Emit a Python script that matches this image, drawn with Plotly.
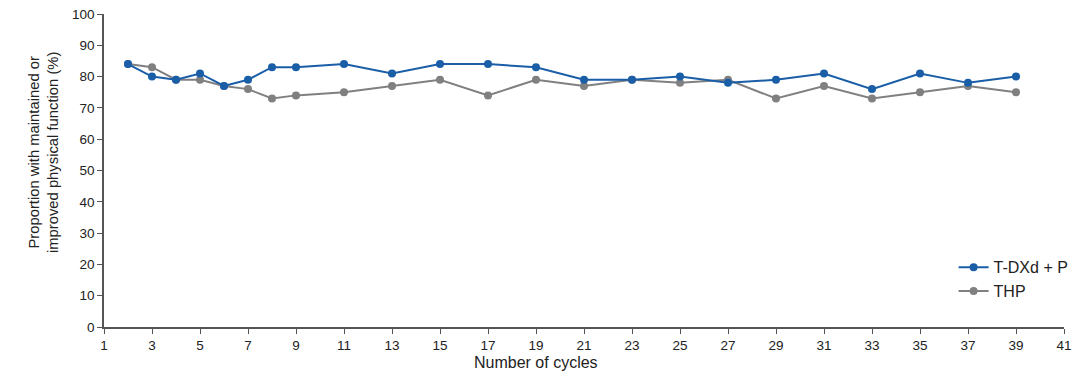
import plotly.graph_objects as go

cycles = [2, 3, 4, 5, 6, 7, 8, 9, 11, 13, 15, 17, 19, 21, 23, 25, 27, 29, 31, 33, 35, 37, 39]
tdxd_p = [84, 80, 79, 81, 77, 79, 83, 83, 84, 81, 84, 84, 83, 79, 79, 80, 78, 79, 81, 76, 81, 78, 80]
thp = [84, 83, 79, 79, 77, 76, 73, 74, 75, 77, 79, 74, 79, 77, 79, 78, 79, 73, 77, 73, 75, 77, 75]
x_ticks = list(range(1, 42, 2))
y_ticks = list(range(0, 101, 10))

fig = go.Figure()
fig.add_trace(go.Scatter(x=cycles, y=thp, mode="lines+markers", name="THP",
                         line=dict(color="#808080", width=2), marker=dict(size=8, color="#808080")))
fig.add_trace(go.Scatter(x=cycles, y=tdxd_p, mode="lines+markers", name="T-DXd + P",
                         line=dict(color="#1a5ea8", width=2), marker=dict(size=8, color="#1a5ea8")))

fig.update_layout(
    width=1080, height=377,
    margin=dict(l=104, r=16, t=14, b=50, autoexpand=False),
    plot_bgcolor="white", paper_bgcolor="white",
    font=dict(family="Liberation Sans, Arial, sans-serif", size=13.5, color="#222222"),
    legend=dict(x=0.885, y=0.245, xanchor="left", yanchor="top", traceorder="reversed",
                font=dict(size=16), bgcolor="rgba(0,0,0,0)", itemwidth=30),
    xaxis=dict(range=[1, 41], tickvals=x_ticks, ticks="outside", ticklen=5, tickcolor="#555555",
               showline=True, linecolor="#555555", linewidth=1.5, showgrid=False, zeroline=False,
               automargin=False),
    yaxis=dict(range=[0, 100], tickvals=y_ticks, ticks="outside", ticklen=5, tickcolor="#555555",
               showline=True, linecolor="#555555", linewidth=1.5, showgrid=False, zeroline=False,
               automargin=False),
    annotations=[
        dict(text="Number of cycles", xref="paper", yref="paper", x=0.45, y=-0.115,
             xanchor="center", yanchor="middle", showarrow=False, font=dict(size=16)),
        dict(text="Proportion with maintained or<br>improved physical function (%)",
             xref="paper", yref="paper", x=-0.0635, y=0.559, textangle=-90,
             xanchor="center", yanchor="middle", showarrow=False, font=dict(size=14.8)),
    ],
)
fig.write_html("out.html", config={"displayModeBar": False},
               post_script="document.body.style.margin='0';document.body.style.overflow='hidden';")
